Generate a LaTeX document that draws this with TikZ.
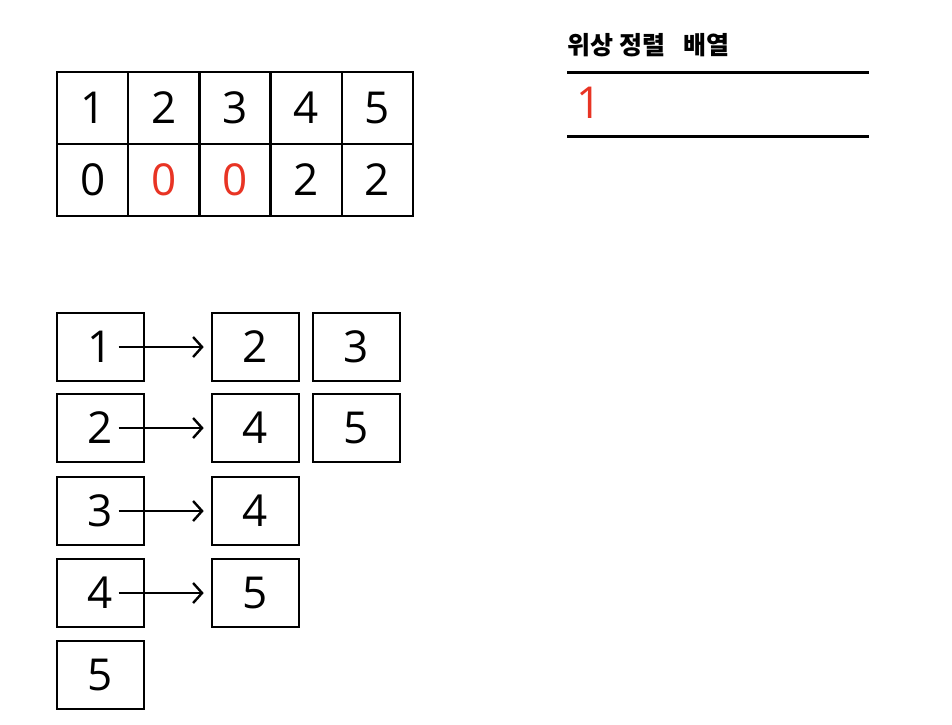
\documentclass[tikz,border=0pt]{standalone}
\usepackage{fontspec}
\setmainfont{Open Sans}
\newfontfamily\krfont{Noto Sans CJK KR}
\usepackage{xcolor}
\usetikzlibrary{positioning, arrows.meta}
\definecolor{penred}{RGB}{232,52,36}

\begin{document}
\begin{tikzpicture}[
      x=0.5pt, y=-0.5pt,
      cell/.style={
        rectangle,
        draw,
        line width=1.2pt,
        outer sep=0pt,
        minimum width=35.6pt,
        minimum height=36pt,
        font=\fontsize{22}{24}\selectfont
      },
      listbox/.style={
        rectangle,
        draw,
        line width=1.3pt,
        minimum width=43.5pt,
        minimum height=34pt,
        font=\fontsize{22}{24}\selectfont
      },
      every edge/.style={draw, line width=1.3pt, -{Straight Barb[length=4.5pt, width=10pt, line width=1.2pt]}},
      node distance=0pt
    ]
    \useasboundingbox (0,0) rectangle (952,724);

    % Indegree table
    \node[cell] (v1) at (92.6,108) {1};
    \node[cell, right=of v1] (v2) {2};
    \node[cell, right=of v2] (v3) {3};
    \node[cell, right=of v3] (v4) {4};
    \node[cell, right=of v4] (v5) {5};
    \node[cell, below=of v1] (d1) {0};
    \node[cell, below=of v2, text=penred] (d2) {0};
    \node[cell, below=of v3, text=penred] (d3) {0};
    \node[cell, below=of v4] (d4) {2};
    \node[cell, below=of v5] (d5) {2};

    % Result array
    \node[font=\krfont\bfseries\fontsize{12.5}{14}\selectfont, anchor=west, inner sep=0pt] (title) at (567,45) {위상 정렬\hspace{9pt}배열};
    \coordinate (top1) at (567,72);
    \coordinate (top2) at (869,72);
    \coordinate (bot1) at (567,136);
    \coordinate (bot2) at (869,136);
    \draw[line width=1.5pt] (top1) -- (top2);
    \draw[line width=1.5pt] (bot1) -- (bot2);
    \node[text=penred, font=\fontsize{22}{24}\selectfont] (res1) at (589,103) {1};

    % Adjacency list
    \node[listbox] (a1) at (100.5,347) {1};
    \node[listbox] (a2) at (100.5,428) {2};
    \node[listbox] (a3) at (100.5,511) {3};
    \node[listbox] (a4) at (100.5,593) {4};
    \node[listbox] (a5) at (100.5,675) {5};
    \node[listbox] (b1) at (255.5,347) {2};
    \node[listbox] (b2) at (255.5,428) {4};
    \node[listbox] (b3) at (255.5,511) {4};
    \node[listbox] (b4) at (255.5,593) {5};
    \node[listbox] (c1) at (356.5,347) {3};
    \node[listbox] (c2) at (356.5,428) {5};

    % Arrows
    \path ([xshift=9pt]a1.center) edge[shorten >=3.5pt] (b1.west)
          ([xshift=9pt]a2.center) edge[shorten >=3.5pt] (b2.west)
          ([xshift=9pt]a3.center) edge[shorten >=3.5pt] (b3.west)
          ([xshift=9pt]a4.center) edge[shorten >=3.5pt] (b4.west);
  \end{tikzpicture}
\end{document}
